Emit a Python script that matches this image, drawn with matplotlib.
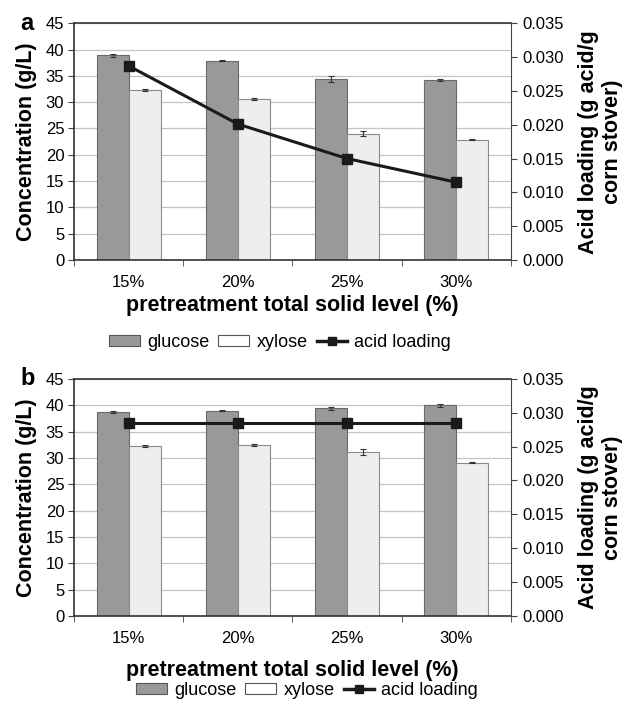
import matplotlib
matplotlib.use("Agg")
import matplotlib.pyplot as plt
import numpy as np

plt.rcParams['font.family'] = ['Liberation Sans', 'DejaVu Sans']

categories = ['15%', '20%', '25%', '30%']

# panel a
glucose_a = [38.9, 37.9, 34.4, 34.2]
glucose_a_err = [0.25, 0.15, 0.5, 0.2]
xylose_a = [32.3, 30.6, 24.0, 22.9]
xylose_a_err = [0.2, 0.2, 0.5, 0.1]
acid_a = [0.0287, 0.0201, 0.0150, 0.0115]

# panel b
glucose_b = [38.8, 39.0, 39.4, 40.0]
glucose_b_err = [0.2, 0.1, 0.3, 0.3]
xylose_b = [32.3, 32.5, 31.1, 29.1]
xylose_b_err = [0.2, 0.2, 0.5, 0.1]
acid_b = [0.0285, 0.0285, 0.0285, 0.0285]

fig = plt.figure(figsize=(6.27, 7.03), dpi=100)

def panel(rect, glu, glu_err, xyl, xyl_err, acid, letter, legend_xy, xlabelpad):
    ax = fig.add_axes(rect)
    x = np.arange(len(categories))
    w = 0.293
    ax.bar(x - w / 2, glu, w, color='#999999', edgecolor='#6a6a6a', linewidth=0.8, zorder=2)
    ax.bar(x + w / 2, xyl, w, color='#eeeeee', edgecolor='#8a8a8a', linewidth=0.8, zorder=2)
    ax.errorbar(x - w / 2, glu, yerr=glu_err, fmt='none', ecolor='#333333', elinewidth=0.8, capsize=2, capthick=0.8, zorder=3)
    ax.errorbar(x + w / 2, xyl, yerr=xyl_err, fmt='none', ecolor='#333333', elinewidth=0.8, capsize=2, capthick=0.8, zorder=3)
    ax.set_xlim(-0.5, 3.5)
    ax.set_ylim(0, 45)
    ax.set_yticks(range(0, 46, 5))
    ax.yaxis.grid(True, color='#c4c4c4', linewidth=0.9, zorder=0)
    ax.set_axisbelow(True)
    ax.set_xticks(x)
    ax.set_xticklabels(categories, fontsize=12)
    ax.set_xticks(np.arange(-0.5, 4, 1), minor=True)
    ax.tick_params(axis='x', which='major', length=0, pad=11)
    ax.tick_params(axis='x', which='minor', length=4, color='#444444')
    ax.tick_params(axis='y', labelsize=12, length=4, color='#444444', pad=3)
    for s in ['left', 'bottom', 'top']:
        ax.spines[s].set_color('#333333')
        ax.spines[s].set_linewidth(1.2)
    ax.spines['right'].set_visible(False)
    ax.set_ylabel('Concentration (g/L)', fontsize=15.5, fontweight='bold', labelpad=6)
    ax.set_xlabel('pretreatment total solid level (%)', fontsize=15.5, fontweight='bold', labelpad=xlabelpad)

    ax2 = ax.twinx()
    ax2.plot(x, acid, color='#1a1a1a', linewidth=2.2, marker='s', markersize=7.5, zorder=4)
    ax2.set_ylim(0, 0.035)
    ax2.set_yticks(np.arange(0, 0.0351, 0.005))
    ax2.set_yticklabels(['%.3f' % v for v in np.arange(0, 0.0351, 0.005)])
    ax2.tick_params(axis='y', labelsize=12, length=4, color='#444444', pad=4)
    ax2.spines['right'].set_color('#444444')
    ax2.spines['right'].set_linewidth(0.8)
    for s in ['left', 'bottom', 'top']:
        ax2.spines[s].set_visible(False)
    ax2.set_ylabel('Acid loading (g acid/g\ncorn stover)', fontsize=15.5, fontweight='bold',
                   labelpad=10, linespacing=1.2)

    fig.text(0.033, rect[1] + rect[3], letter, fontsize=17, fontweight='bold', va='center')

    h1 = plt.Rectangle((0, 0), 1, 1, facecolor='#999999', edgecolor='#555555', linewidth=0.8)
    h2 = plt.Rectangle((0, 0), 1, 1, facecolor='white', edgecolor='#555555', linewidth=0.8)
    h3 = plt.Line2D([], [], color='#1a1a1a', linewidth=2.5, marker='s', markersize=6)
    fig.legend([h1, h2, h3], ['glucose', 'xylose', 'acid loading'], loc='center',
               bbox_to_anchor=legend_xy, ncol=3, frameon=False, fontsize=13,
               handlelength=1.7, handleheight=0.5, handletextpad=0.4, columnspacing=0.5,
               borderpad=0.2)
    return ax

panel([0.118, 0.630, 0.697, 0.337], glucose_a, glucose_a_err, xylose_a, xylose_a_err, acid_a, 'a', (0.447, 0.513), 3)
panel([0.118, 0.124, 0.697, 0.337], glucose_b, glucose_b_err, xylose_b, xylose_b_err, acid_b, 'b', (0.49, 0.018), 10)

fig.savefig('out.png', dpi=100)
